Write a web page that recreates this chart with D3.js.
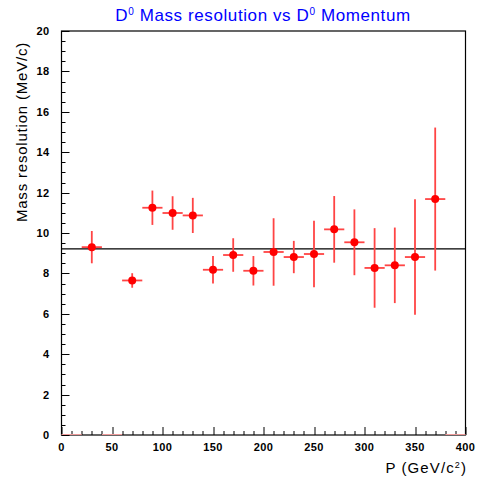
<!DOCTYPE html>
<html>
<head>
<meta charset="utf-8">
<script src="https://cdn.jsdelivr.net/npm/d3@7"></script>
<style>
  body { margin: 0; background: #fff; }
  svg { display: block; font-family: "Liberation Sans", Arial, sans-serif; }
</style>
</head>
<body>
<svg id="chart" width="478" height="479"></svg>
<script>
// momentum bin centres (GeV/c^2), half width of each bin is 10
var binCenters = [30, 70, 90, 110, 130, 150, 170, 190, 210, 230, 250, 270, 290, 310, 330, 350, 370];
var resolution = [9.3, 7.65, 11.25, 10.99, 10.87, 8.18, 8.91, 8.13, 9.06, 8.81, 8.96, 10.18, 9.54, 8.27, 8.40, 8.81, 11.68];
var resErr     = [0.8, 0.36, 0.85, 0.83, 0.87, 0.68, 0.83, 0.73, 1.67, 0.80, 1.65, 1.65, 1.63, 1.97, 1.87, 2.86, 3.54];
var emptyBins  = [10, 50, 390];
var binHalfWidth = 10;
var fitLevel = 9.21;
var xTicks = [0, 50, 100, 150, 200, 250, 300, 350, 400];
var yTicks = [0, 2, 4, 6, 8, 10, 12, 14, 16, 18, 20];

var margin = {top: 31, right: 13, bottom: 44, left: 61.5},
    width = 465.5 - margin.left,
    height = 435 - margin.top;

var svg = d3.select("#chart");
var g = svg.append("g")
    .attr("transform", "translate(" + margin.left + "," + margin.top + ")");

var x = d3.scaleLinear().domain([0, 400]).range([0, width]);
var y = d3.scaleLinear().domain([0, 20]).range([height, 0]);

// minor ticks (drawn inside the frame, ROOT style)
var xMinor = d3.range(0, 401, 10);
var yMinor = d3.range(0, 20.01, 0.5);

g.selectAll(".xminor")
    .data(xMinor)
    .enter().append("line")
    .attr("x1", function(d) { return Math.round(x(d)) + 0.5; })
    .attr("x2", function(d) { return Math.round(x(d)) + 0.5; })
    .attr("y1", height)
    .attr("y2", function(d) { return height - (d % 50 === 0 ? 8 : 4); })
    .attr("stroke", "#000");

g.selectAll(".yminor")
    .data(yMinor)
    .enter().append("line")
    .attr("x1", 0)
    .attr("x2", function(d) { return d % 2 === 0 ? 8 : 4; })
    .attr("y1", function(d) { return Math.round(y(d)) + 0.5; })
    .attr("y2", function(d) { return Math.round(y(d)) + 0.5; })
    .attr("stroke", "#000");

// frame
g.append("rect")
    .attr("x", 0).attr("y", 0)
    .attr("width", width).attr("height", height)
    .attr("fill", "none")
    .attr("stroke", "#000")
    .attr("stroke-width", 1.2);

// tick labels
g.selectAll(".xlab")
    .data(xTicks)
    .enter().append("text")
    .attr("x", function(d) { return x(d); })
    .attr("y", height + 16)
    .attr("text-anchor", "middle")
    .style("font-size", "11px")
    .style("font-weight", "bold")
    .style("letter-spacing", "0.4px")
    .text(function(d) { return d; });

g.selectAll(".ylab")
    .data(yTicks)
    .enter().append("text")
    .attr("x", -12)
    .attr("y", function(d) { return y(d) + 4; })
    .attr("text-anchor", "end")
    .style("font-size", "11px")
    .style("font-weight", "bold")
    .style("letter-spacing", "0.4px")
    .text(function(d) { return d; });

// fit line
g.append("line")
    .attr("x1", 0).attr("x2", width)
    .attr("y1", y(fitLevel)).attr("y2", y(fitLevel))
    .attr("stroke", "#000")
    .attr("stroke-width", 1.3);

// empty bins sit on zero
g.selectAll(".empty")
    .data(emptyBins)
    .enter().append("line")
    .attr("x1", function(d) { return x(d - binHalfWidth); })
    .attr("x2", function(d) { return x(d + binHalfWidth); })
    .attr("y1", height - 0.5).attr("y2", height - 0.5)
    .attr("stroke", "#e99")
    .attr("stroke-width", 1);

var pts = binCenters.map(function(c, i) {
    return {x: c, v: resolution[i], e: resErr[i]};
});

var pg = g.selectAll(".pt").data(pts).enter().append("g");

pg.append("line")
    .attr("x1", function(d) { return x(d.x - binHalfWidth); })
    .attr("x2", function(d) { return x(d.x + binHalfWidth); })
    .attr("y1", function(d) { return y(d.v); })
    .attr("y2", function(d) { return y(d.v); })
    .attr("stroke", "#f44")
    .attr("stroke-width", 1.8);

pg.append("line")
    .attr("x1", function(d) { return x(d.x); })
    .attr("x2", function(d) { return x(d.x); })
    .attr("y1", function(d) { return y(d.v + d.e); })
    .attr("y2", function(d) { return y(d.v - d.e); })
    .attr("stroke", "#f44")
    .attr("stroke-width", 1.8);

pg.append("circle")
    .attr("cx", function(d) { return x(d.x); })
    .attr("cy", function(d) { return y(d.v); })
    .attr("r", 4)
    .attr("fill", "#f00");

// titles
var title = svg.append("text")
    .attr("x", 263)
    .attr("y", 21)
    .attr("text-anchor", "middle")
    .style("font-size", "17px")
    .style("letter-spacing", "0.6px")
    .attr("fill", "#00f");
title.append("tspan").text("D");
title.append("tspan").attr("dy", -6).style("font-size", "10px").text("0");
title.append("tspan").attr("dy", 6).text(" Mass resolution vs D");
title.append("tspan").attr("dy", -6).style("font-size", "10px").text("0");
title.append("tspan").attr("dy", 6).text(" Momentum");

svg.append("text")
    .attr("transform", "translate(27,132) rotate(-90)")
    .attr("text-anchor", "middle")
    .style("font-size", "15px")
    .style("letter-spacing", "0.8px")
    .text("Mass resolution (MeV/c)");

var xt = svg.append("text")
    .attr("x", 467)
    .attr("y", 473)
    .attr("text-anchor", "end")
    .style("font-size", "15px")
    .style("letter-spacing", "1.1px")
    .attr("fill", "#000");
xt.append("tspan").text("P (GeV/c");
xt.append("tspan").attr("dy", -5).style("font-size", "9px").text("2");
xt.append("tspan").attr("dy", 5).text(")");
</script>
</body>
</html>
